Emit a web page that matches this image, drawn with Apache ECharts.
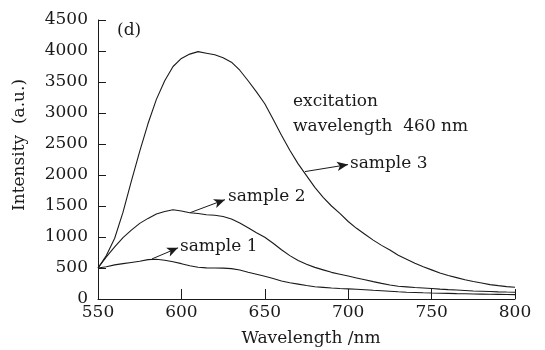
<!DOCTYPE html>
<html>
<head>
<meta charset="utf-8">
<script src="https://cdn.jsdelivr.net/npm/echarts@6/dist/echarts.min.js"></script>
<style>html,body{margin:0;padding:0;background:#fff}#c{width:545px;height:350px}</style>
</head>
<body>
<div id="c"></div>
<script>
const wavelengths = [550,555,560,565,570,575,580,585,590,595,600,605,610,615,620,625,630,635,640,645,650,655,660,665,670,675,680,685,690,695,700,705,710,715,720,725,730,735,740,745,750,755,760,765,770,775,780,785,790,795,800];
const sample3 = [500,700,980,1400,1900,2380,2830,3220,3520,3750,3880,3950,3990,3965,3940,3890,3820,3690,3520,3340,3150,2900,2640,2400,2180,1990,1800,1640,1500,1380,1250,1140,1045,950,865,790,705,640,575,520,470,420,380,345,310,282,258,232,215,200,190];
const sample2 = [500,680,840,990,1110,1220,1300,1370,1410,1440,1420,1390,1380,1360,1350,1330,1290,1225,1150,1070,995,900,795,700,620,560,510,470,430,400,370,340,310,280,252,226,205,195,185,178,170,160,152,145,138,130,125,120,115,112,110];
const sample1 = [500,520,550,570,590,610,635,640,625,600,570,535,512,502,500,498,490,468,432,400,368,330,290,262,240,218,198,188,178,170,164,158,150,140,132,124,116,110,105,100,96,93,90,86,84,80,78,76,74,72,70];
const yTicks = [0,500,1000,1500,2000,2500,3000,3500,4000,4500];
const xTicks = [550,600,650,700,750,800];
const arrows = {
  s1: [[582.4, 647], [598, 825]],
  s2: [[605.2, 1392], [626.1, 1602]],
  s3: [[674.1, 2055], [699.9, 2168]]
};

const FONT = '"DejaVu Serif", serif';
const FS = 17;
const INK = '#1a1a1a';
function pairs(vals){ return wavelengths.map((w,i)=>[w, vals[i]]); }
function arrowLine(a){
  return {
    silent: true, symbol: ['none','arrow'], symbolSize: [7, 11],
    lineStyle: {color: INK, width: 1, type: 'solid'},
    label: {show: false}, animation: false,
    data: [[{coord: a[0]}, {coord: a[1]}]]
  };
}
function mkSeries(name, vals, a){
  return {name, type: 'line', data: pairs(vals), showSymbol: false, smooth: false,
    lineStyle: {color: INK, width: 1.1}, itemStyle: {color: INK}, animation: false,
    markLine: arrowLine(a)};
}
function txt(text, x, y, align, rot){
  const el = {type: 'text', x, y, style: {text, font: FS + 'px ' + FONT, fill: INK,
    align: align || 'left', verticalAlign: 'middle', textAlign: align || 'left', textVerticalAlign: 'middle'}};
  if (rot) el.rotation = rot;
  return el;
}

const chart = echarts.init(document.getElementById('c'), null, {renderer: 'canvas'});
chart.setOption({
  backgroundColor: '#fff',
  animation: false,
  grid: {left: 98, right: 30, top: 20, bottom: 51, containLabel: false},
  xAxis: {
    type: 'value', min: xTicks[0], max: xTicks[xTicks.length-1], interval: 50,
    axisLine: {show: true, lineStyle: {color: INK, width: 1}},
    axisTick: {show: true, inside: true, length: 10, lineStyle: {color: INK}},
    axisLabel: {color: INK, fontFamily: FONT, fontSize: FS, margin: 5, formatter: v => String(v)},
    splitLine: {show: false}
  },
  yAxis: {
    type: 'value', min: yTicks[0], max: yTicks[yTicks.length-1], interval: 500,
    axisLine: {show: true, lineStyle: {color: INK, width: 1}},
    axisTick: {show: true, inside: true, length: 8, lineStyle: {color: INK}},
    axisLabel: {color: INK, fontFamily: FONT, fontSize: FS, margin: 10, formatter: v => String(v)},
    splitLine: {show: false}
  },
  series: [
    mkSeries('sample 3', sample3, arrows.s3),
    mkSeries('sample 2', sample2, arrows.s2),
    mkSeries('sample 1', sample1, arrows.s1)
  ],
  graphic: [
    txt('(d)', 117, 31),
    txt('excitation', 293, 102),
    txt('wavelength  460 nm', 293, 127),
    txt('sample 3', 350, 164),
    txt('sample 2', 228, 197),
    txt('sample 1', 180, 247),
    txt('Wavelength /nm', 311, 339, 'center'),
    txt('Intensity  (a.u.)', 20, 145, 'center', Math.PI/2)
  ]
});
</script>
</body>
</html>
